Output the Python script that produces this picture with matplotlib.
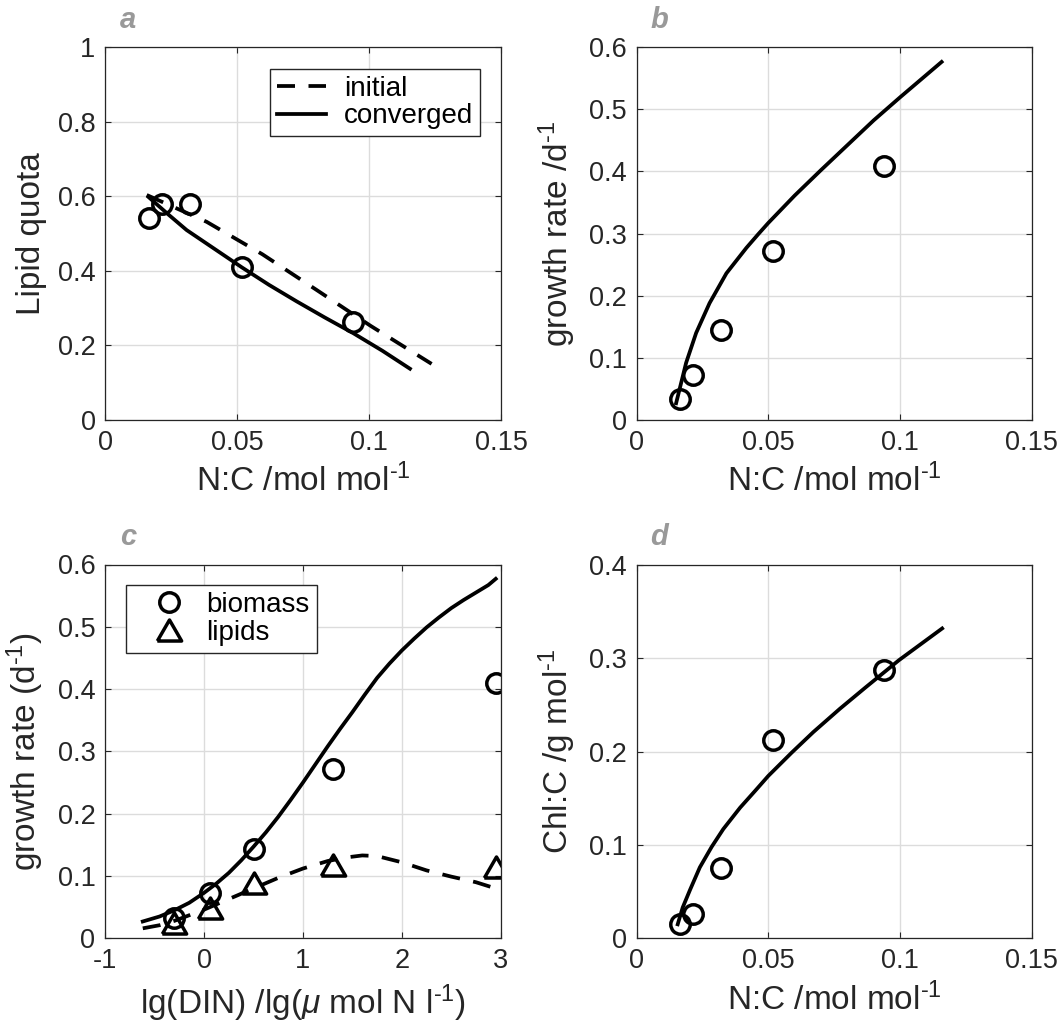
import matplotlib
matplotlib.use("Agg")
import matplotlib.pyplot as plt

plt.rcParams['font.family'] = ['Liberation Sans', 'DejaVu Sans']
plt.rcParams['mathtext.fontset'] = 'custom'
plt.rcParams['mathtext.rm'] = 'Liberation Sans'
plt.rcParams['mathtext.it'] = 'Liberation Sans:italic'
plt.rcParams['mathtext.default'] = 'regular'
plt.rcParams['axes.unicode_minus'] = False

# ---------------- data ----------------
# observations
nc_obs = [0.0165, 0.0213, 0.0320, 0.0518, 0.0940]
lipid_obs = [0.541, 0.579, 0.578, 0.409, 0.263]
mu_obs = [0.033, 0.073, 0.144, 0.272, 0.409]
chl_obs = [0.015, 0.026, 0.075, 0.212, 0.288]
lgdin_obs = [-0.305, 0.055, 0.506, 1.308, 2.953]
mu_lip_obs = [0.025, 0.049, 0.089, 0.118, 0.114]

# panel a model curves
nc_conv = [0.0163, 0.0240, 0.0308, 0.0400, 0.0517, 0.0620, 0.0724, 0.0830, 0.0940, 0.1050, 0.1154]
lipid_conv = [0.598, 0.550, 0.509, 0.465, 0.409, 0.362, 0.318, 0.275, 0.232, 0.185, 0.137]
nc_init = [0.0157, 0.0384, 0.0595, 0.0801, 0.1005, 0.1236]
lipid_init = [0.603, 0.531, 0.444, 0.348, 0.252, 0.150]

# panel b model curve
nc_mu = [0.0150, 0.0188, 0.0226, 0.0277, 0.0341, 0.0417, 0.0462, 0.0500, 0.0600,
         0.0700, 0.0800, 0.0900, 0.1000, 0.1158]
mu_model = [0.027, 0.092, 0.140, 0.188, 0.236, 0.277, 0.299, 0.317, 0.361,
            0.402, 0.442, 0.482, 0.519, 0.576]

# panel c model curves
lg_model = [-0.62, -0.45, -0.30, -0.15, 0.00, 0.125, 0.25, 0.375, 0.50, 0.625, 0.75, 0.875,
            1.00, 1.125, 1.25, 1.375, 1.50, 1.625, 1.75, 1.875, 2.00, 2.125, 2.25, 2.375,
            2.50, 2.625, 2.75, 2.875, 2.95]
mu_bio_model = [0.027, 0.035, 0.045, 0.057, 0.073, 0.088, 0.105, 0.125, 0.147, 0.170, 0.195, 0.222,
                0.250, 0.279, 0.308, 0.336, 0.363, 0.391, 0.418, 0.441, 0.462, 0.481, 0.499, 0.515,
                0.530, 0.543, 0.555, 0.567, 0.577]
lg_lip_model = [-0.62, -0.45, -0.30, -0.15, 0.00, 0.25, 0.50, 0.75, 1.00, 1.25, 1.45, 1.60,
                1.75, 2.00, 2.25, 2.50, 2.75, 2.95]
mu_lip_model = [0.016, 0.021, 0.028, 0.037, 0.046, 0.063, 0.080, 0.097, 0.112, 0.124, 0.130, 0.133,
                0.132, 0.122, 0.109, 0.099, 0.090, 0.080]

# panel d model curve
nc_chl = [0.0156, 0.0175, 0.0203, 0.0240, 0.0285, 0.0329, 0.0393, 0.0450, 0.0500, 0.0589,
          0.0671, 0.0772, 0.0870, 0.0996, 0.1160]
chl_model = [0.015, 0.033, 0.052, 0.076, 0.098, 0.117, 0.140, 0.158, 0.174, 0.199,
             0.221, 0.246, 0.269, 0.298, 0.332]

nc_ticks = [0, 0.05, 0.1, 0.15]
nc_ticklabels = ['0', '0.05', '0.1', '0.15']

# ---------------- style ----------------
TXT = '#262626'
LW = 2.7
MS = 14
MEW = 2.5
DASH = (4.8, 3.6)
TRI = [(-1, -0.866), (1, -0.866), (0, 0.866), (-1, -0.866)]
TRI_MS = 17.5
SUP = '$^{\\text{-1}}$'
LABFS = 24
TICKFS = 19.5
LEGFS = 20

fig = plt.figure(figsize=(10.63, 10.30), dpi=100)
W, H = 1063, 1030

def make_ax(x0, x1, ytop, ybot):
    ax = fig.add_axes([x0 / W, 1 - ybot / H, (x1 - x0) / W, (ybot - ytop) / H])
    ax.grid(True, color='#dcdcdc', lw=1.0)
    ax.set_axisbelow(True)
    ax.tick_params(direction='in', top=True, right=True, length=4, width=0.8,
                   colors=TXT, labelsize=TICKFS, pad=7)
    for s in ax.spines.values():
        s.set_color(TXT)
        s.set_linewidth(0.9)
    return ax

def legend(ax, loc, anchor, hl, htp):
    lg = ax.legend(loc=loc, bbox_to_anchor=anchor, fontsize=LEGFS, borderaxespad=0,
                   handlelength=hl, handletextpad=htp, borderpad=0.25, labelspacing=0.06,
                   fancybox=False, edgecolor=TXT, framealpha=1)
    lg.get_frame().set_linewidth(1.0)
    return lg

axa = make_ax(105.3, 501.3, 47, 419.8)
axb = make_ax(636.6, 1031.7, 47, 420)
axc = make_ax(105.2, 500.7, 564.5, 938.3)
axd = make_ax(636.6, 1031.7, 565, 938.3)

# panel a
axa.plot(nc_init, lipid_init, color='k', lw=LW, dashes=DASH, label='initial')
axa.plot(nc_conv, lipid_conv, color='k', lw=LW, label='converged')
axa.plot(nc_obs, lipid_obs, ls='none', marker='o', ms=MS, mfc='none', mec='k', mew=MEW)
axa.set_xlim(0, 0.15)
axa.set_ylim(0, 1)
axa.set_xticks(nc_ticks)
axa.set_xticklabels(nc_ticklabels)
axa.set_yticks([0, 0.2, 0.4, 0.6, 0.8, 1])
axa.set_yticklabels(['0', '0.2', '0.4', '0.6', '0.8', '1'])
axa.set_xlabel('N:C /mol mol' + SUP, fontsize=LABFS, color=TXT, labelpad=6)
axa.set_ylabel('Lipid quota', fontsize=LABFS, color=TXT, labelpad=8)
legend(axa, 'upper right', (0.946, 0.942), 1.75, 0.65)

# panel b
axb.plot(nc_mu, mu_model, color='k', lw=LW)
axb.plot(nc_obs, mu_obs, ls='none', marker='o', ms=MS, mfc='none', mec='k', mew=MEW)
axb.set_xlim(0, 0.15)
axb.set_ylim(0, 0.6)
axb.set_xticks(nc_ticks)
axb.set_xticklabels(nc_ticklabels)
axb.set_yticks([0, 0.1, 0.2, 0.3, 0.4, 0.5, 0.6])
axb.set_yticklabels(['0', '0.1', '0.2', '0.3', '0.4', '0.5', '0.6'])
axb.set_xlabel('N:C /mol mol' + SUP, fontsize=LABFS, color=TXT, labelpad=6)
axb.set_ylabel('growth rate /d' + SUP, fontsize=LABFS, color=TXT, labelpad=8)

# panel c
axc.plot(lg_model, mu_bio_model, color='k', lw=LW)
axc.plot(lg_lip_model, mu_lip_model, color='k', lw=LW, dashes=DASH)
axc.plot(lgdin_obs, mu_obs, ls='none', marker='o', ms=MS, mfc='none', mec='k', mew=MEW, label='biomass')
axc.plot(lgdin_obs, mu_lip_obs, ls='none', marker=TRI, ms=TRI_MS, mfc='none', mec='k', mew=MEW, label='lipids')
axc.set_xlim(-1, 3)
axc.set_ylim(0, 0.6)
axc.set_xticks([-1, 0, 1, 2, 3])
axc.set_xticklabels(['-1', '0', '1', '2', '3'])
axc.set_yticks([0, 0.1, 0.2, 0.3, 0.4, 0.5, 0.6])
axc.set_yticklabels(['0', '0.1', '0.2', '0.3', '0.4', '0.5', '0.6'])
axc.set_xlabel('lg(DIN) /lg($\\mathit{\\mu}$ mol N l' + SUP + ')', fontsize=LABFS, color=TXT, labelpad=6)
axc.set_ylabel('growth rate (d' + SUP + ')', fontsize=LABFS, color=TXT, labelpad=8)
legend(axc, 'upper left', (0.0526, 0.945), 2.6, 0.05)

# panel d
axd.plot(nc_chl, chl_model, color='k', lw=LW)
axd.plot(nc_obs, chl_obs, ls='none', marker='o', ms=MS, mfc='none', mec='k', mew=MEW)
axd.set_xlim(0, 0.15)
axd.set_ylim(0, 0.4)
axd.set_xticks(nc_ticks)
axd.set_xticklabels(nc_ticklabels)
axd.set_yticks([0, 0.1, 0.2, 0.3, 0.4])
axd.set_yticklabels(['0', '0.1', '0.2', '0.3', '0.4'])
axd.set_xlabel('N:C /mol mol' + SUP, fontsize=LABFS, color=TXT, labelpad=6)
axd.set_ylabel('Chl:C /g mol' + SUP, fontsize=LABFS, color=TXT, labelpad=8)

# panel letters
for lab, (px, py) in zip(['a', 'b', 'c', 'd'], [(128, 20), (659, 20), (128, 537), (659, 537)]):
    fig.text(px / W, 1 - py / H, lab, ha='center', va='center', fontsize=21,
             fontweight='bold', fontstyle='italic', color='#999999')

fig.savefig('out.png', dpi=100)
